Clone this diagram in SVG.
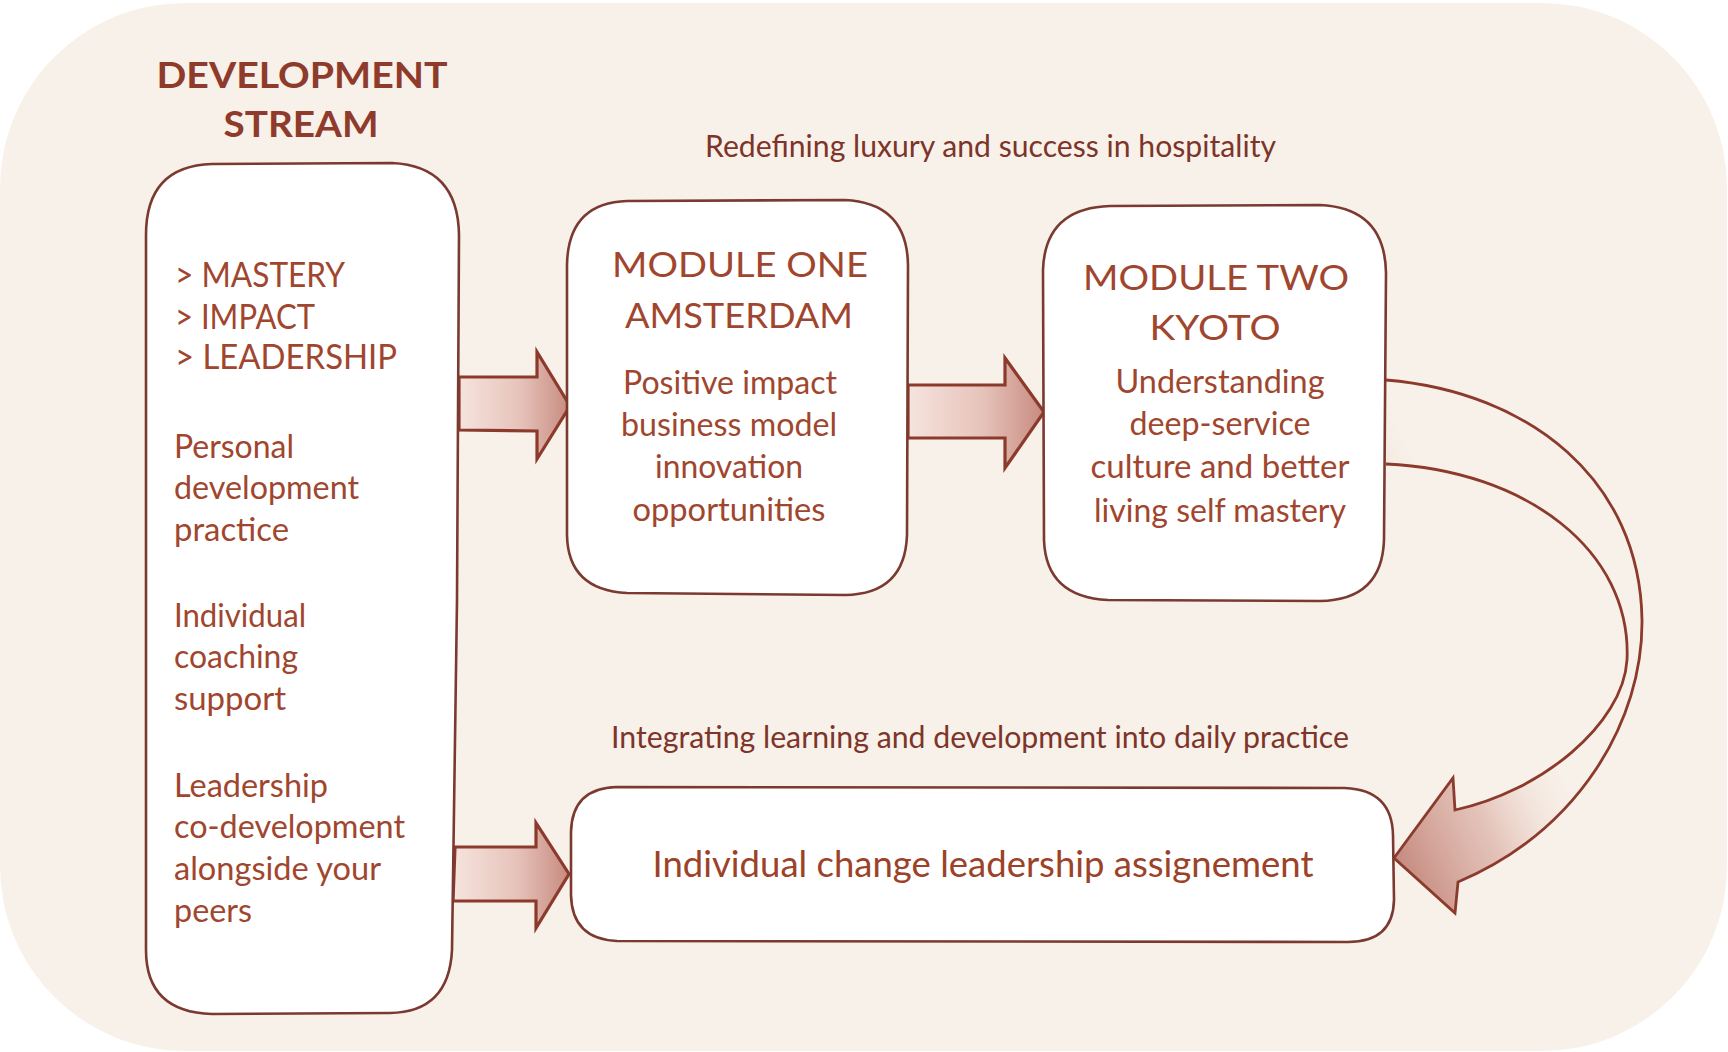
<svg xmlns="http://www.w3.org/2000/svg" width="1728" height="1052" viewBox="0 0 1728 1052">
<style>
.box{fill:#ffffff;stroke:#7b3a30;stroke-width:2.6;stroke-linejoin:round}
.arw{stroke:#8b3a2c;stroke-width:3.2;stroke-linejoin:miter}
.crv{fill:none;stroke:#8b3a2c;stroke-width:2.8}
text{font-family:Lato,"Liberation Sans","Open Sans",sans-serif;fill:#a0462e}
.ttl{font-size:36px;font-weight:700;fill:#8e3b2c;text-anchor:middle}
.kw{font-size:34px}
.bd{font-size:32px}
.mt{font-size:34px;text-anchor:middle}
.mb{font-size:32px;text-anchor:middle}
.lbl{font-size:30px;fill:#7d3429}
.big{font-size:37px;text-anchor:middle;fill:#9c4229}
</style>
<defs>
<linearGradient id="gs" x1="0" y1="0" x2="1" y2="0">
<stop offset="0" stop-color="#f6e4de"/>
<stop offset="0.55" stop-color="#e6c3ba"/>
<stop offset="1" stop-color="#c78a7f"/>
</linearGradient>
<linearGradient id="gc" gradientUnits="userSpaceOnUse" x1="1400" y1="860" x2="1570" y2="780">
<stop offset="0" stop-color="#c4877c" stop-opacity="0.95"/>
<stop offset="0.5" stop-color="#dcb0a6" stop-opacity="0.7"/>
<stop offset="1" stop-color="#f3e2dc" stop-opacity="0"/>
</linearGradient>
</defs>
<rect id="background" x="0" y="3" width="1727" height="1048" rx="185" ry="185" fill="#f8f1e9"/>

<g id="title">
<text class="ttl" x="302" y="88" textLength="291" lengthAdjust="spacingAndGlyphs">DEVELOPMENT</text>
<text class="ttl" x="301" y="137" textLength="155" lengthAdjust="spacingAndGlyphs">STREAM</text>
</g>

<g id="labels">
<text class="lbl" x="705" y="157" textLength="571" lengthAdjust="spacingAndGlyphs">Redefining luxury and success in hospitality</text>
<text class="lbl" x="611" y="748" textLength="738" lengthAdjust="spacingAndGlyphs">Integrating learning and development into daily practice</text>
</g>

<g id="connectors">
<path class="arw" fill="url(#gs)" d="M459,377 L537,377 L537,352 L570,406 L537,459 L537,431 L459,430 Z"/>
<path class="arw" fill="url(#gs)" d="M908,385 L1005,385 L1005,358 L1044,412 L1005,468 L1005,438 L908,438 Z"/>
<path class="arw" fill="url(#gs)" d="M455,847 L536,847 L536,823 L569,874 L536,928 L536,901 L453,901 Z"/>
<path fill="url(#gc)" stroke="none" d="M1386,380 C1530,392 1640,480 1642,620 C1643,720 1580,830 1458,882 L1455,913 L1394,858 L1453,778 L1455,810 C1540,792 1623,725 1627,660 C1632,550 1525,470 1386,464 Z"/>
<path class="crv" d="M1386,380 C1530,392 1640,480 1642,620 C1643,720 1580,830 1458,882 L1455,913 L1394,858 L1453,778 L1455,810 C1540,792 1623,725 1627,660 C1632,550 1525,470 1386,464" stroke-width="3"/>
</g>

<g id="stream">
<path class="box" d="M212,164 L392,163 Q458,166 459,235 L457,600 L452,950 Q449,1012 390,1013 L212,1014 Q146,1012 146,950 L146,235 Q146,166 212,164 Z"/>
<text class="kw" x="175" y="287" textLength="170" lengthAdjust="spacingAndGlyphs">&gt; MASTERY</text>
<text class="kw" x="175" y="329" textLength="140" lengthAdjust="spacingAndGlyphs">&gt; IMPACT</text>
<text class="kw" x="175" y="369" textLength="222" lengthAdjust="spacingAndGlyphs">&gt; LEADERSHIP</text>
<text class="bd" x="174" y="458" textLength="120" lengthAdjust="spacingAndGlyphs">Personal</text>
<text class="bd" x="174" y="499" textLength="185" lengthAdjust="spacingAndGlyphs">development</text>
<text class="bd" x="174" y="541" textLength="115" lengthAdjust="spacingAndGlyphs">practice</text>
<text class="bd" x="174" y="627" textLength="132" lengthAdjust="spacingAndGlyphs">Individual</text>
<text class="bd" x="174" y="668" textLength="124" lengthAdjust="spacingAndGlyphs">coaching</text>
<text class="bd" x="174" y="710" textLength="112" lengthAdjust="spacingAndGlyphs">support</text>
<text class="bd" x="174" y="797" textLength="154" lengthAdjust="spacingAndGlyphs">Leadership</text>
<text class="bd" x="174" y="838" textLength="231" lengthAdjust="spacingAndGlyphs">co-development</text>
<text class="bd" x="174" y="880" textLength="207" lengthAdjust="spacingAndGlyphs">alongside your</text>
<text class="bd" x="174" y="922" textLength="78" lengthAdjust="spacingAndGlyphs">peers</text>
</g>

<g id="module-one">
<path class="box" d="M627,201 L845,200 Q907,203 908,265 L907,535 Q905,594 845,595 L627,593 Q568,590 567,535 L567,265 Q568,203 627,201 Z"/>
<text class="mt" x="740" y="277" textLength="256" lengthAdjust="spacingAndGlyphs">MODULE ONE</text>
<text class="mt" x="739" y="328" textLength="228" lengthAdjust="spacingAndGlyphs">AMSTERDAM</text>
<text class="mb" x="730" y="394" textLength="214" lengthAdjust="spacingAndGlyphs">Positive impact</text>
<text class="mb" x="729" y="436" textLength="216" lengthAdjust="spacingAndGlyphs">business model</text>
<text class="mb" x="729" y="478" textLength="148" lengthAdjust="spacingAndGlyphs">innovation</text>
<text class="mb" x="729" y="521" textLength="193" lengthAdjust="spacingAndGlyphs">opportunities</text>
</g>

<g id="module-two">
<path class="box" d="M1110,206 L1320,205 Q1385,208 1386,273 L1384,540 Q1382,600 1320,601 L1108,600 Q1046,597 1044,540 L1043,270 Q1045,208 1110,206 Z"/>
<text class="mt" x="1216" y="290" textLength="266" lengthAdjust="spacingAndGlyphs">MODULE TWO</text>
<text class="mt" x="1215" y="340" textLength="131" lengthAdjust="spacingAndGlyphs">KYOTO</text>
<text class="mb" x="1220" y="393" textLength="209" lengthAdjust="spacingAndGlyphs">Understanding</text>
<text class="mb" x="1220" y="435" textLength="181" lengthAdjust="spacingAndGlyphs">deep-service</text>
<text class="mb" x="1220" y="478" textLength="259" lengthAdjust="spacingAndGlyphs">culture and better</text>
<text class="mb" x="1220" y="522" textLength="252" lengthAdjust="spacingAndGlyphs">living self mastery</text>
</g>

<g id="assignment">
<path class="box" d="M617,787 L1345,788 Q1392,790 1393,835 L1394,900 Q1393,942 1348,942 L617,941 Q572,939 571,895 L571,832 Q572,788 617,787 Z"/>
<text class="big" x="983" y="877" textLength="661" lengthAdjust="spacingAndGlyphs">Individual change leadership assignement</text>
</g>
</svg>
